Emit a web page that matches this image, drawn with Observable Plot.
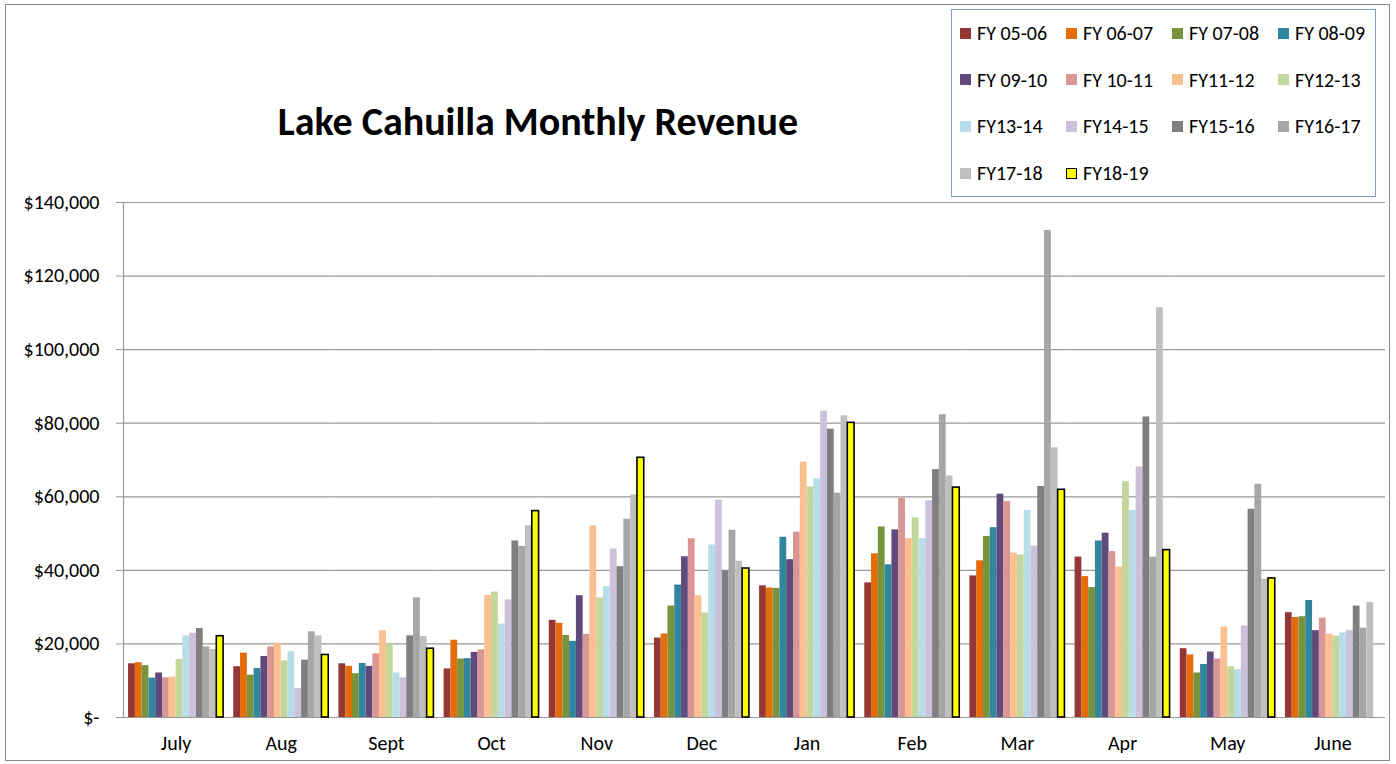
<!DOCTYPE html>
<html>
<head>
<meta charset="utf-8">
<script src="https://cdn.jsdelivr.net/npm/d3@7"></script>
<script src="https://cdn.jsdelivr.net/npm/@observablehq/plot@0.6"></script>
<style>
  body { margin: 0; background: #fff; font-family: Carlito, Lato, sans-serif; }
  #wrap { position: relative; width: 1396px; height: 764px; overflow: hidden; background: #fff; }
  #border { position: absolute; left: 5px; top: 4px; width: 1385px; height: 757px; border: 1px solid #8a8a8a; box-sizing: border-box; }
  #title { position: absolute; left: 0; top: 98px; width: 1076px; text-align: center; font-weight: bold; font-size: 40px; line-height: 48px; color: #000; }
  #legend { position: absolute; left: 951px; top: 9px; width: 425px; height: 188px; border: 1.5px solid #7d9ccb; box-sizing: border-box; }
  .item { position: absolute; display: flex; align-items: center; height: 24px; font-size: 20px; color: #000; white-space: nowrap; }
  .sw { width: 11px; height: 11px; margin-right: 6px; box-sizing: border-box; }
  #chart { position: absolute; left: 0; top: 185px; }
</style>
</head>
<body>
<div id="wrap">
  <div id="border"></div>
  <div id="title">Lake Cahuilla Monthly Revenue</div>
  <div id="legend"></div>
  <div id="chart"></div>
</div>
<script>
const months = ["July", "Aug", "Sept", "Oct", "Nov", "Dec", "Jan", "Feb", "Mar", "Apr", "May", "June"];
const seriesNames = ["FY 05-06", "FY 06-07", "FY 07-08", "FY 08-09", "FY 09-10", "FY 10-11", "FY11-12", "FY12-13", "FY13-14", "FY14-15", "FY15-16", "FY16-17", "FY17-18", "FY18-19"];
const seriesColors = ["#953735", "#e46c0a", "#77933c", "#31859c", "#604a7b", "#d99694", "#fac090", "#c3d69b", "#b7dee8", "#ccc1da", "#7f7f7f", "#a6a6a6", "#bfbfbf", "#ffff00"];
const yTicks = [0, 20000, 40000, 60000, 80000, 100000, 120000, 140000];

const fy0506 = [14600, 13800, 14600, 13200, 26400, 21600, 35800, 36600, 38500, 43600, 18700, 28500];
const fy0607 = [14900, 17500, 13900, 21000, 25600, 22700, 35200, 44500, 42600, 38300, 17000, 27200];
const fy0708 = [14100, 11500, 11900, 15900, 22300, 30300, 35100, 51800, 49200, 35300, 12100, 27400];
const fy0809 = [10700, 13300, 14700, 16000, 20700, 36000, 49000, 41500, 51600, 48000, 14400, 31800];
const fy0910 = [12100, 16600, 13900, 17700, 33100, 43700, 42900, 51000, 60700, 50100, 17800, 23600];
const fy1011 = [10800, 19200, 17300, 18400, 22600, 48600, 50400, 59600, 58700, 45100, 15900, 27000];
const fy1112 = [11000, 20200, 23600, 33200, 52100, 33100, 69400, 48700, 44700, 40900, 24600, 22700];
const fy1213 = [15800, 15400, 20000, 34100, 32500, 28400, 62700, 54300, 44200, 64100, 13800, 22100];
const fy1314 = [22200, 17900, 12100, 25400, 35600, 46900, 64900, 48600, 56300, 56300, 13000, 23000];
const fy1415 = [22900, 7900, 10800, 32000, 45800, 59100, 83300, 58900, 46600, 68100, 24900, 23600];
const fy1516 = [24200, 15600, 22200, 48000, 41000, 39900, 78400, 67400, 62800, 81700, 56600, 30300];
const fy1617 = [19200, 23300, 32500, 46500, 53900, 50900, 61000, 82300, 132400, 43600, 63400, 24300];
const fy1718 = [18500, 22200, 22000, 52100, 60500, 42500, 82000, 65700, 73300, 111400, 37600, 31300];
const fy1819 = [22100, 17000, 18700, 56100, 70600, 40500, 80100, 62500, 61900, 45500, 37800, null];

const seriesValues = [fy0506, fy0607, fy0708, fy0809, fy0910, fy1011, fy1112, fy1213, fy1314, fy1415, fy1516, fy1617, fy1718, fy1819];

const rows = [];
seriesNames.forEach((s, si) => {
  months.forEach((m, mi) => {
    const v = seriesValues[si][mi];
    if (v != null) rows.push({month: m, series: s, value: v});
  });
});

const lastSeries = seriesNames[seriesNames.length - 1];
const fmt = v => v === 0 ? "$-" : "$" + d3.format(",")(v);
const FONT = "Carlito, Lato, sans-serif";

const chart = Plot.plot({
  width: 1396,
  height: 579,
  marginTop: 17,
  marginBottom: 47,
  marginLeft: 123,
  marginRight: 11,
  style: {fontFamily: FONT, fontSize: "20px", color: "#000", background: "transparent", overflow: "visible"},
  fx: {domain: months, padding: 0, round: false, label: null},
  x: {domain: seriesNames, paddingInner: 0, paddingOuter: 0.75, round: false, axis: null},
  y: {domain: [0, 140000], label: null},
  color: {domain: seriesNames, range: seriesColors},
  marks: [
    Plot.gridY(yTicks, {stroke: "#989898", strokeOpacity: 1, strokeWidth: 1.2}),
    Plot.frame({anchor: "left", facetAnchor: "left", stroke: "#989898", strokeWidth: 1.2}),
    Plot.barY(rows, {
      fx: "month", x: "series", y: "value", fill: "series",
      stroke: d => d.series === lastSeries ? "#000" : "none",
      strokeWidth: 1.6, inset: 0
    }),
    Plot.axisY({ticks: yTicks, tickFormat: fmt, tickSize: 7, tickPadding: 17, stroke: "#989898", fill: "#000", fontSize: 20, label: null}),
    Plot.axisFx({anchor: "bottom", tickSize: 0, tickPadding: 18, fontSize: 20, label: null, fill: "#000"})
  ]
});
document.getElementById("chart").appendChild(chart);

// legend
const legend = document.getElementById("legend");
seriesNames.forEach((s, i) => {
  const col = i % 4, row = Math.floor(i / 4);
  const it = document.createElement("div");
  it.className = "item";
  it.style.left = (8 + col * 106) + "px";
  it.style.top = (11 + row * 46.7) + "px";
  const sw = document.createElement("div");
  sw.className = "sw";
  sw.style.background = seriesColors[i];
  if (s === lastSeries) sw.style.border = "1.5px solid #000";
  const tx = document.createElement("span");
  tx.textContent = s;
  it.appendChild(sw);
  it.appendChild(tx);
  legend.appendChild(it);
});
</script>
</body>
</html>
